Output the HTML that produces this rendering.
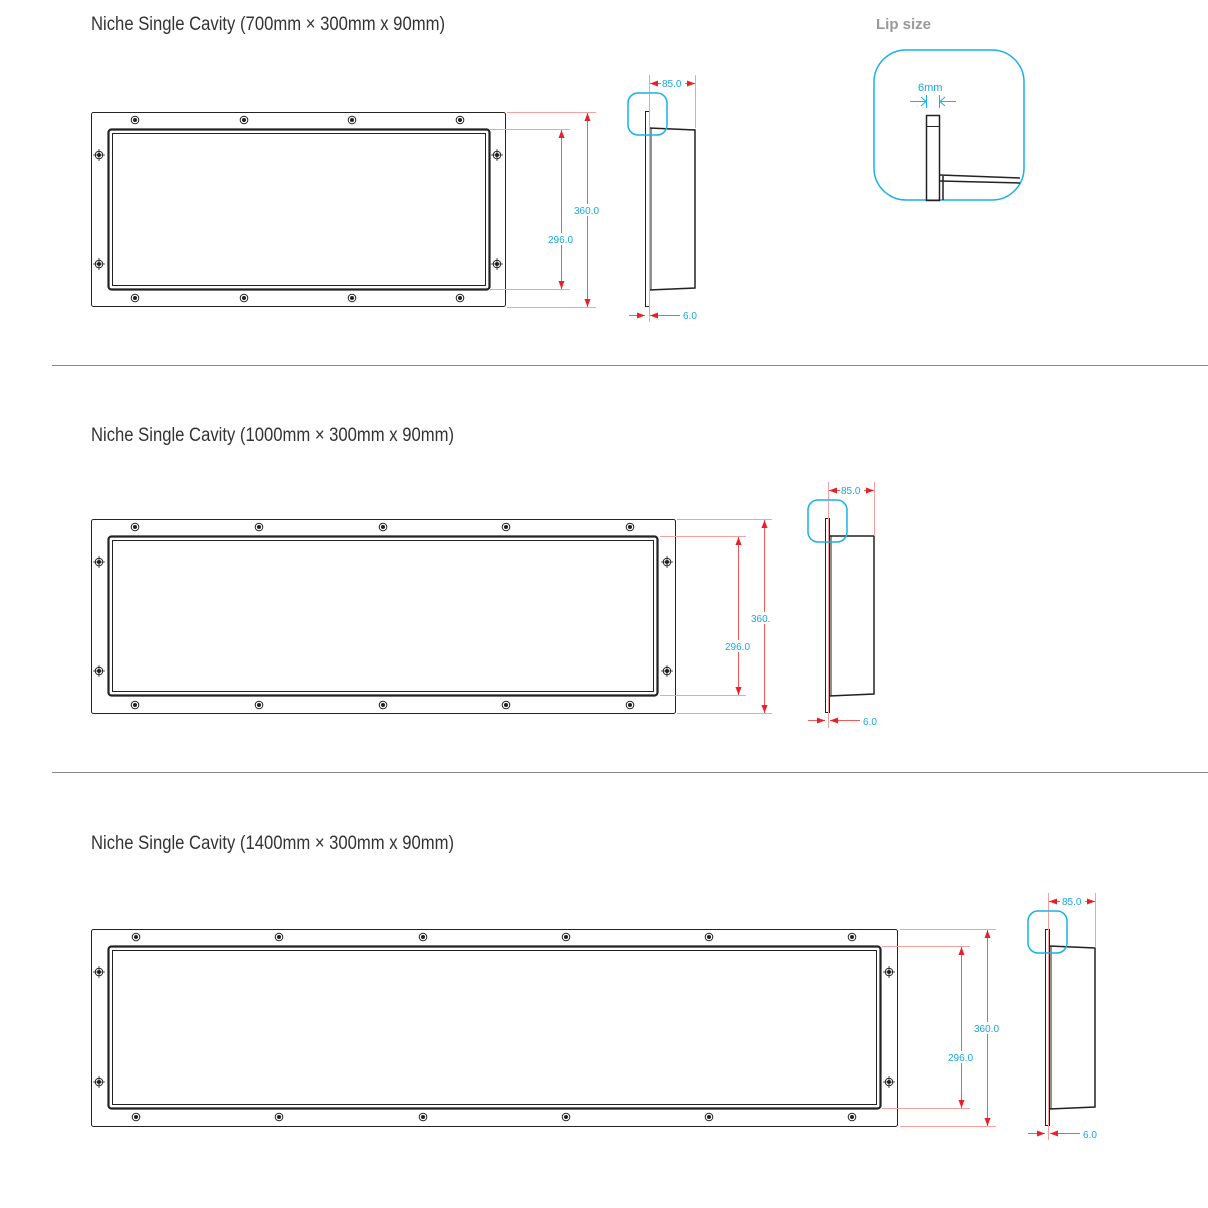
<!DOCTYPE html>
<html><head><meta charset="utf-8"><style>
html,body{margin:0;padding:0;background:#fff;}
svg{display:block;}
.t{font-family:"Liberation Sans Narrow","Liberation Sans",sans-serif;font-size:19px;fill:#333;}
.d{font-family:"Liberation Sans",sans-serif;font-size:10px;fill:#1aa6e0;}
.r{stroke:#f05a5a;stroke-width:1;fill:none;}
.rl{stroke:#f6a0a0;stroke-width:1;fill:none;}
.k{stroke:#222;fill:none;}
.b{stroke:#1ab0ea;stroke-width:1.5;fill:none;}
</style></head><body>
<svg width="1208" height="1208" viewBox="0 0 1208 1208" xmlns="http://www.w3.org/2000/svg">
<defs>
<marker id="a" markerWidth="8" markerHeight="6" refX="8" refY="3" orient="auto-start-reverse" markerUnits="userSpaceOnUse"><path d="M0,0 L8,3 L0,6 z" fill="#e8202a"/></marker>
<g id="s"><circle r="3.8" fill="#fff" stroke="#222" stroke-width="1"/><circle r="2" fill="#222"/></g>
<g id="x"><circle r="3.8" fill="#fff" stroke="#222" stroke-width="1"/><circle r="2" fill="#222"/><path d="M-6,0H6M0,-6V6" stroke="#222" stroke-width="0.8"/></g>
</defs>

<!-- titles -->
<text class="t" x="91" y="30" textLength="354" lengthAdjust="spacingAndGlyphs">Niche Single Cavity (700mm × 300mm x 90mm)</text>
<text class="t" x="91" y="441" textLength="363" lengthAdjust="spacingAndGlyphs">Niche Single Cavity (1000mm × 300mm x 90mm)</text>
<text class="t" x="91" y="849" textLength="363" lengthAdjust="spacingAndGlyphs">Niche Single Cavity (1400mm × 300mm x 90mm)</text>
<text x="876" y="29" style="font-family:'Liberation Sans Narrow','Liberation Sans',sans-serif;font-size:15px;font-weight:bold;fill:#999">Lip size</text>

<line x1="52" y1="365.5" x2="1208" y2="365.5" stroke="#888" stroke-width="1"/>
<line x1="52" y1="772.5" x2="1208" y2="772.5" stroke="#888" stroke-width="1"/>

<!-- ===== Drawing 1 ===== -->
<rect x="91.5" y="112.5" width="414" height="194" rx="2" class="k" stroke-width="1"/>
<rect x="108.5" y="129.5" width="381" height="160" rx="3" class="k" stroke-width="2.2"/>
<rect x="112.5" y="133.5" width="373" height="152" class="k" stroke-width="1"/>
<use href="#s" x="135" y="120"/><use href="#s" x="244" y="120"/><use href="#s" x="352" y="120"/><use href="#s" x="460" y="120"/>
<use href="#s" x="135" y="298"/><use href="#s" x="244" y="298"/><use href="#s" x="352" y="298"/><use href="#s" x="460" y="298"/>
<use href="#x" x="99" y="155"/><use href="#x" x="99" y="264"/><use href="#x" x="497" y="155"/><use href="#x" x="497" y="264"/>
<path class="rl" d="M507,112.5H596M507,307.5H596M490,129.5H570M490,289.5H570"/>
<line class="r" x1="587.5" y1="113" x2="587.5" y2="307" marker-start="url(#a)" marker-end="url(#a)"/>
<line class="r" x1="561.5" y1="130" x2="561.5" y2="289" marker-start="url(#a)" marker-end="url(#a)"/>
<rect x="572" y="204" width="30" height="12" fill="#fff"/><text class="d" x="574" y="214">360.0</text>
<rect x="546" y="233" width="30" height="12" fill="#fff"/><text class="d" x="548" y="243">296.0</text>
<!-- side 1 -->
<rect x="645.5" y="111.5" width="4" height="195" class="k" stroke-width="1"/>
<path class="k" stroke-width="1.5" d="M649,128 L695,130 L695,288 L649,290"/>
<path class="k" stroke-width="1" d="M651,128V290"/>
<path class="rl" d="M649.5,75V322M695.5,75V128"/>
<line class="r" x1="650" y1="83.5" x2="661" y2="83.5" marker-start="url(#a)"/>
<line class="r" x1="685" y1="83.5" x2="695" y2="83.5" marker-end="url(#a)"/>
<text class="d" x="662" y="87">85.0</text>
<line class="r" x1="629" y1="315.5" x2="645" y2="315.5" marker-end="url(#a)"/>
<line class="r" x1="650" y1="315.5" x2="680" y2="315.5" marker-start="url(#a)"/>
<text class="d" x="683" y="319">6.0</text>
<rect x="628" y="93" width="39" height="42" rx="10" class="b"/>

<!-- lip detail -->
<rect x="874" y="50" width="150" height="150" rx="32" class="b"/>
<rect x="926.5" y="115.5" width="13" height="85" class="k" stroke-width="1.5"/>
<line x1="926" y1="126.5" x2="940" y2="126.5" stroke="#222"/>
<path class="k" stroke-width="1.5" d="M940,175 L1020,178 M940,181 L1020,183 M943,176V200"/>
<text x="918" y="91" style="font-family:'Liberation Sans',sans-serif;font-size:11px;fill:#1aa6e0">6mm</text>
<path d="M910,101.5H926M956,101.5H940M921,97L926,101.5L921,106M945,97L940,101.5L945,106M926.5,95V108M939.5,95V108" stroke="#1ab0ea" stroke-width="1" fill="none"/>

<!-- ===== Drawing 2 ===== -->
<rect x="91.5" y="519.5" width="584" height="194" rx="2" class="k" stroke-width="1"/>
<rect x="108.5" y="536.5" width="549" height="159" rx="3" class="k" stroke-width="2.2"/>
<rect x="112.5" y="540.5" width="541" height="151" class="k" stroke-width="1"/>
<use href="#s" x="135" y="527"/><use href="#s" x="259" y="527"/><use href="#s" x="383" y="527"/><use href="#s" x="506" y="527"/><use href="#s" x="630" y="527"/>
<use href="#s" x="135" y="705"/><use href="#s" x="259" y="705"/><use href="#s" x="383" y="705"/><use href="#s" x="506" y="705"/><use href="#s" x="630" y="705"/>
<use href="#x" x="99" y="562"/><use href="#x" x="99" y="671"/><use href="#x" x="667" y="562"/><use href="#x" x="667" y="671"/>
<path class="rl" d="M677,519.5H772M677,713.5H772M660,536.5H746M660,695.5H746"/>
<line class="r" x1="764.5" y1="520" x2="764.5" y2="713" marker-start="url(#a)" marker-end="url(#a)"/>
<line class="r" x1="738.5" y1="537" x2="738.5" y2="695" marker-start="url(#a)" marker-end="url(#a)"/>
<rect x="750" y="612" width="22" height="12" fill="#fff"/><text class="d" x="751" y="622">360.</text>
<rect x="723" y="640" width="30" height="12" fill="#fff"/><text class="d" x="725" y="650">296.0</text>
<rect x="825.5" y="518.5" width="4" height="194" class="k" stroke-width="1"/>
<path class="k" stroke-width="1.5" d="M829,536 L874,536 L874,694 L829,696"/>
<path class="k" stroke-width="1" d="M831,536V696"/>
<path class="rl" d="M828.5,482V728M874.5,482V536"/>
<line class="r" x1="829" y1="490.5" x2="840" y2="490.5" marker-start="url(#a)"/>
<line class="r" x1="864" y1="490.5" x2="874" y2="490.5" marker-end="url(#a)"/>
<text class="d" x="841" y="494">85.0</text>
<line class="r" x1="808" y1="720.5" x2="825" y2="720.5" marker-end="url(#a)"/>
<line class="r" x1="830" y1="720.5" x2="860" y2="720.5" marker-start="url(#a)"/>
<text class="d" x="863" y="725">6.0</text>
<rect x="808" y="500" width="39" height="42" rx="10" class="b"/>

<!-- ===== Drawing 3 ===== -->
<rect x="91.5" y="929.5" width="806" height="197" rx="2" class="k" stroke-width="1"/>
<rect x="108.5" y="946.5" width="772" height="162" rx="3" class="k" stroke-width="2.2"/>
<rect x="112.5" y="950.5" width="764" height="154" class="k" stroke-width="1"/>
<use href="#s" x="136" y="937"/><use href="#s" x="279" y="937"/><use href="#s" x="423" y="937"/><use href="#s" x="566" y="937"/><use href="#s" x="709" y="937"/><use href="#s" x="852" y="937"/>
<use href="#s" x="136" y="1117"/><use href="#s" x="279" y="1117"/><use href="#s" x="423" y="1117"/><use href="#s" x="566" y="1117"/><use href="#s" x="709" y="1117"/><use href="#s" x="852" y="1117"/>
<use href="#x" x="99" y="972"/><use href="#x" x="99" y="1082"/><use href="#x" x="889" y="972"/><use href="#x" x="889" y="1082"/>
<path class="rl" d="M900,929.5H996M900,1126.5H996M882,946.5H970M882,1108.5H970"/>
<line class="r" x1="987.5" y1="930" x2="987.5" y2="1126" marker-start="url(#a)" marker-end="url(#a)"/>
<line class="r" x1="961.5" y1="947" x2="961.5" y2="1108" marker-start="url(#a)" marker-end="url(#a)"/>
<rect x="972" y="1022" width="30" height="12" fill="#fff"/><text class="d" x="974" y="1032">360.0</text>
<rect x="946" y="1051" width="30" height="12" fill="#fff"/><text class="d" x="948" y="1061">296.0</text>
<rect x="1045.5" y="929.5" width="4" height="196" class="k" stroke-width="1"/>
<path class="k" stroke-width="1.5" d="M1049,946 L1095,948 L1095,1107 L1049,1109"/>
<path class="k" stroke-width="1" d="M1051,946V1109"/>
<path class="rl" d="M1048.5,893V1140M1095.5,893V948"/>
<line class="r" x1="1049" y1="901.5" x2="1060" y2="901.5" marker-start="url(#a)"/>
<line class="r" x1="1085" y1="901.5" x2="1095" y2="901.5" marker-end="url(#a)"/>
<text class="d" x="1062" y="905">85.0</text>
<line class="r" x1="1028" y1="1133.5" x2="1045" y2="1133.5" marker-end="url(#a)"/>
<line class="r" x1="1050" y1="1133.5" x2="1080" y2="1133.5" marker-start="url(#a)"/>
<text class="d" x="1083" y="1138">6.0</text>
<rect x="1028" y="911" width="39" height="42" rx="10" class="b"/>
</svg>
</body></html>
